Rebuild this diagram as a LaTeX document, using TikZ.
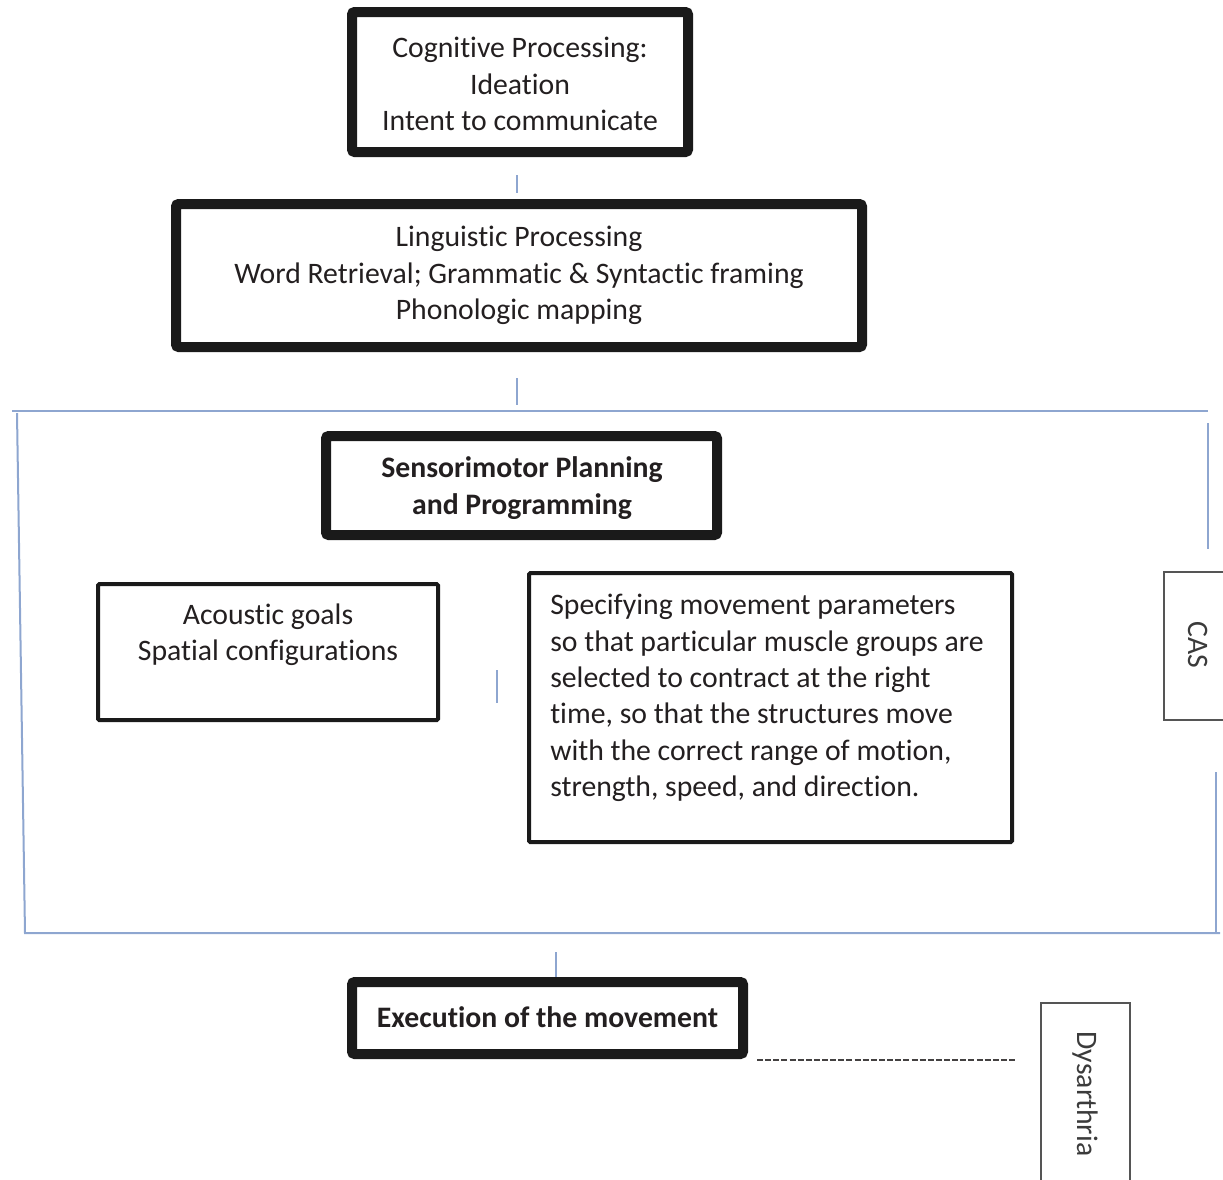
\documentclass[tikz,border=0pt]{standalone}
\usepackage{fontspec}
\setmainfont{Carlito}[Ligatures={NoCommon,NoContextual}]
\begin{document}
\begin{tikzpicture}[x=0.75pt,y=-0.75pt,
  txt/.style={text=textc, font=\fontsize{22.3}{27.3}\selectfont, align=center, inner sep=0pt},
  heavybox/.style={draw=boxc, line width=7.5pt, rounded corners=2pt, fill=white},
  midbox/.style={draw=boxc, line width=3pt, rounded corners=1pt},
  thinbox/.style={draw=thinc, line width=1.1pt},
  stub/.style={draw=bluec, line width=1.5pt},
  bracket/.style={draw=bluec, line width=1.5pt}]
\definecolor{textc}{HTML}{231F20}
\definecolor{boxc}{HTML}{1A1A1A}
\definecolor{thinc}{HTML}{555555}
\definecolor{bluec}{HTML}{8EA6D0}
\useasboundingbox (0,0) rectangle (1223,1179);
\clip (0,0) rectangle (1223,1179);

% heavy boxes
\node[heavybox, minimum width=252pt, minimum height=105pt] (cog) at (520,82) {};
\node[txt] (cogtext) at (520,84) {Cognitive Processing:\\Ideation\\Intent to communicate};
\node[heavybox, minimum width=514.5pt, minimum height=107.25pt] (ling) at (519,275.5) {};
\node[txt] (lingtext) at (519,275.5)
  {Linguistic Processing\\Word Retrieval; Grammatic \& Syntactic framing\\Phonologic mapping};
\node[heavybox, minimum width=293.25pt, minimum height=74.25pt] (sens) at (521.5,485.5) {};
\node[txt, font=\fontsize{22.3}{27.3}\selectfont\bfseries] (senstext) at (522,488)
  {Sensorimotor Planning\\and Programming};
\node[heavybox, minimum width=293.25pt, minimum height=54pt] (exe) at (547.5,1018) {};
\node[txt, font=\fontsize{22.3}{27.3}\selectfont\bfseries] (exetext) at (547.5,1017)
  {Execution of the movement};

% medium boxes
\node[midbox, minimum width=255pt, minimum height=102pt] (acbox) at (268,652) {};
\node[txt] (actext) at (268,635) {Acoustic goals\\Spatial configurations};
\node[midbox, minimum width=362.25pt, minimum height=201.75pt] (specbox) at (770.5,707.5) {};
\node[txt, align=left, anchor=west] (spectext) at (550,698)
  {Specifying movement parameters\\so that particular muscle groups are\\selected to contract at the right\\time, so that the structures move\\with the correct range of motion,\\strength, speed, and direction.};

% thin label boxes
\node[thinbox, minimum width=49.5pt, minimum height=111pt] (cas) at (1197,646) {};
\node[txt, rotate=-90, text=thinc!70!black] (castext) at (1198,645) {CAS};
\node[thinbox, minimum width=66.75pt, minimum height=147pt] (dys) at (1085.5,1101) {};
\node[txt, rotate=-90, text=thinc!70!black] (dystext) at (1085,1094) {Dysarthria};

% stubs
\coordinate (s1a) at (517,175); \coordinate (s1b) at (517,193);
\coordinate (s2a) at (517,378); \coordinate (s2b) at (517,405);
\coordinate (s3a) at (497,670); \coordinate (s3b) at (497,703);
\coordinate (s4a) at (556,952);
\draw[stub] (s1a) -- (s1b);
\draw[stub] (s2a) -- (s2b);
\draw[stub] (s3a) -- (s3b);
\draw[stub] (s4a) -- (s4a |- exe.north);

% bracket
\coordinate (b1) at (12,411); \coordinate (b2) at (1208,411);
\coordinate (b3) at (17,413); \coordinate (b4) at (25,933);
\coordinate (b5) at (1220,933);
\coordinate (r1) at (1208,423); \coordinate (r2) at (1208,549);
\coordinate (r3) at (1216,772); \coordinate (r4) at (1216,933);
\draw[bracket] (b1) -- (b2);
\draw[bracket] (b3) -- (b4) -- (b5);
\draw[bracket] (r1) -- (r2);
\draw[bracket] (r3) -- (r4);

% dashed line
\coordinate (d1) at (757,1060); \coordinate (d2) at (1017,1060);
\draw[draw=textc!85, line width=1.3pt, dash pattern=on 4.5pt off 1.6pt] (d1) -- (d2);
\end{tikzpicture}
\end{document}
